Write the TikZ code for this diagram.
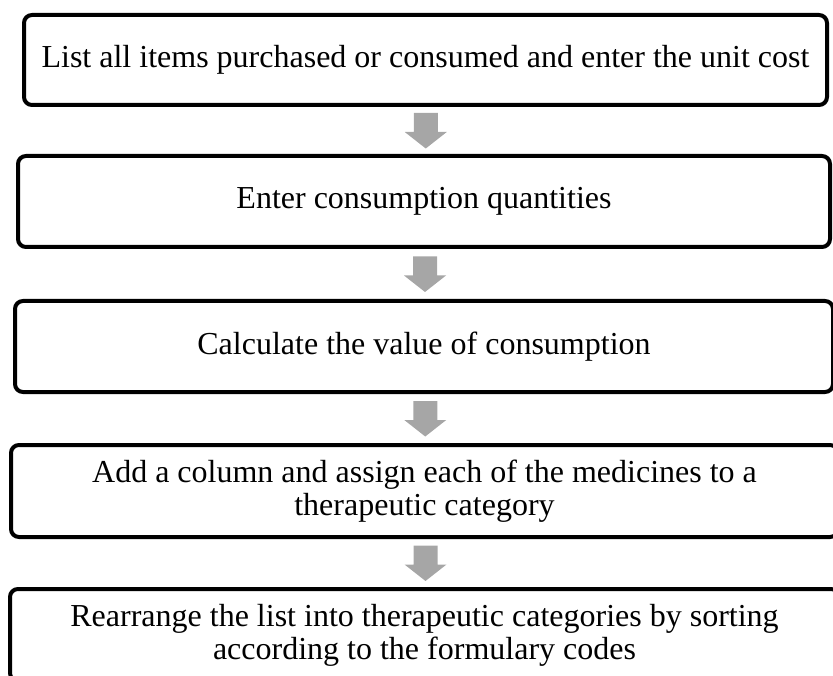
\documentclass[tikz,border=0pt]{standalone}
\usepackage{fontspec}
\setmainfont{Liberation Serif}
\usetikzlibrary{calc, positioning}
\definecolor{arrowgray}{HTML}{A6A6A6}
\tikzstyle{block} = [rectangle, rounded corners=8pt, line width=4pt, draw=black, fill=white, align=center, inner sep=0pt, font=\fontsize{32}{33}\selectfont]
\tikzstyle{flow} = [fill=arrowgray, draw=none]

\begin{document}
\begin{tikzpicture}[x=1pt, y=-1pt]
	\useasboundingbox (0,0) rectangle (833,676);
	\clip (0,0) rectangle (833,676);
	\node (ListItems) [block, minimum width=803, minimum height=90] at (425.5,60) {List all items purchased or consumed and enter the unit cost};
	\node (EnterQty) [block, minimum width=812, minimum height=91] at (424,201.5) {Enter consumption quantities};
	\node (CalcValue) [block, minimum width=818, minimum height=91] at (424,346.5) {Calculate the value of consumption};
	\node (AssignCat) [block, minimum width=827, minimum height=92] at (424.5,491) {Add a column and assign each of the medicines to a\\therapeutic category};
	\node (SortList) [block, minimum width=829, minimum height=92] at (424.5,635) {Rearrange the list into therapeutic categories by sorting\\according to the formulary codes};
	% grey block arrows between the steps
	\foreach \from/\to in {ListItems/EnterQty, EnterQty/CalcValue, CalcValue/AssignCat, AssignCat/SortList}
		\fill [flow] ($(\from.south)!0.5!(\to.north)$) ++(-11,-17.5) -- ++(24,0) -- ++(0,19) -- ++(9,0) -- ++(-21,16.5) -- ++(-21,-16.5) -- ++(9,0) -- cycle;
\end{tikzpicture}
\end{document}
